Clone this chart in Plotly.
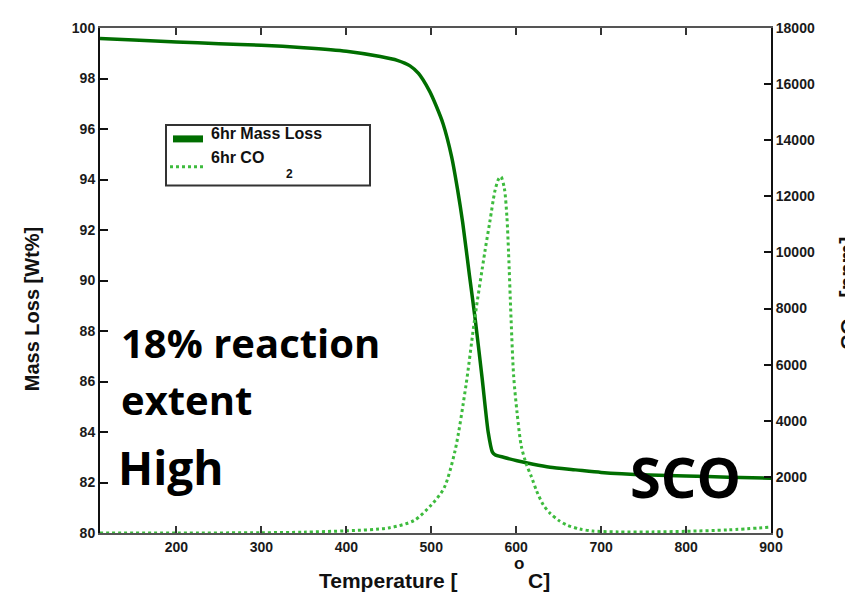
import plotly.graph_objects as go

# ---- data ----
temp_mass = [110, 150, 200, 250, 300, 350, 400, 440, 460, 475, 485, 498, 506, 514, 524, 531, 537,
             545, 552, 560, 567, 572, 575, 585, 601, 620, 640, 670, 700, 757, 800, 850, 900]
mass_loss = [99.58, 99.52, 99.45, 99.38, 99.32, 99.22, 99.08, 98.87, 98.72, 98.5, 98.2, 97.5, 96.9,
             96.2, 94.9, 93.6, 92.3, 90.2, 88.4, 86.1, 84.0, 83.2, 83.1, 83.0, 82.86, 82.72, 82.6,
             82.5, 82.4, 82.3, 82.26, 82.21, 82.17]

temp_co2 = [110, 200, 300, 350, 400, 450, 480, 500, 515, 528, 541, 551, 563, 569, 575, 579, 582,
            586, 589, 591, 594, 597, 601, 606, 612, 618, 624, 632, 640, 650, 660, 675, 690, 720,
            760, 800, 850, 900]
co2_ppm = [0, 0, 10, 30, 80, 180, 450, 1000, 1600, 2930, 5290, 7600, 10000, 11100, 12200, 12600,
           12700, 12300, 11300, 10000, 7600, 5600, 4300, 3100, 2450, 2000, 1500, 1000, 700, 450,
           280, 140, 70, 40, 40, 60, 110, 210]

x_ticks = [200, 300, 400, 500, 600, 700, 800, 900]
y_ticks = [80, 82, 84, 86, 88, 90, 92, 94, 96, 98, 100]
y2_ticks = [0, 2000, 4000, 6000, 8000, 10000, 12000, 14000, 16000, 18000]

series_names = ["6hr Mass Loss", "6hr CO"]

# ---- layout constants (page pixels; the page body adds an 8px offset) ----
OFF = 8
W, H = 853 - OFF, 593 - OFF
L, R, T, B = 100, 771, 23, 533          # plot area in page pixels
dark_green = "#006e00"
light_green = "#3dbb3d"


def px(xp):
    return (xp - L) / (R - L)


def py(yp):
    return (B - yp) / (B - T)


fig = go.Figure()
fig.add_trace(go.Scatter(x=temp_mass, y=mass_loss, mode="lines", name=series_names[0],
                         line=dict(color=dark_green, width=3.5, shape="spline", smoothing=0.6),
                         showlegend=False))
fig.add_trace(go.Scatter(x=temp_co2, y=co2_ppm, mode="lines", name=series_names[1],
                         line=dict(color=light_green, width=3, dash="dot", shape="spline",
                                   smoothing=0.8),
                         yaxis="y2", showlegend=False))

tickfont = dict(family="Arial, Liberation Sans", size=14, color="#1a1a1a", weight="bold")

fig.update_layout(
    width=W, height=H,
    margin=dict(l=L - OFF, r=W - (R - OFF), t=T - OFF, b=H - (B - OFF), pad=0),
    plot_bgcolor="white", paper_bgcolor="white",
    xaxis=dict(range=[110, 900], tickvals=x_ticks, ticks="inside", ticklen=7, tickwidth=1.5,
               tickcolor="#333", showline=True, linecolor="#555", linewidth=2, mirror="ticks",
               showgrid=False, zeroline=False, tickfont=tickfont),
    yaxis=dict(range=[80, 100], tickvals=y_ticks, ticks="inside", ticklen=8, tickwidth=1.5,
               tickcolor="#111", showline=True, linecolor="#111", linewidth=2, showgrid=False,
               zeroline=False, tickfont=tickfont),
    yaxis2=dict(range=[0, 18000], tickvals=y2_ticks, tickformat="d", overlaying="y",
                side="right", ticks="inside", ticklen=7, tickwidth=1.5, tickcolor="#111",
                showline=True, linecolor="#111", linewidth=2, showgrid=False, zeroline=False,
                tickfont=tickfont),
)

title_font = dict(family="Arial, Liberation Sans", size=20, color="#111", weight="bold")
big_font = dict(family="Open Sans", color="black", weight="bold")
leg_font = dict(family="Arial", size=16, color="#111", weight="bold")

annots = [
    # axis titles
    dict(x=px(32), y=py(307), text="Mass Loss [Wt%]", textangle=-90, font=title_font),
    dict(x=px(388), y=py(581), text="Temperature [", font=dict(title_font, size=21)),
    dict(x=px(519), y=py(564), text="o", font=dict(family="Arial", size=17, color="#111", weight="bold")),
    dict(x=px(539), y=py(581), text="C]", font=dict(title_font, size=21)),
    dict(x=px(848), y=py(332), text="CO", textangle=-90, font=dict(title_font, size=21)),
    dict(x=px(848), y=py(264), text="[ppm]", textangle=-90, font=dict(title_font, size=22)),
    # big labels
    dict(x=px(119), y=py(341), text="18% reaction", xanchor="left", font=dict(size=40, **big_font)),
    dict(x=px(119), y=py(398), text="extent", xanchor="left", font=dict(size=40, **big_font)),
    dict(x=px(116), y=py(466), text="High", xanchor="left", font=dict(size=46, **big_font)),
    dict(x=px(628), y=py(475), text="SCO", xanchor="left", font=dict(size=56, **big_font)),
    # legend texts
    dict(x=px(209), y=py(130), text=series_names[0], xanchor="left", font=leg_font),
    dict(x=px(209), y=py(154), text=series_names[1], xanchor="left", font=leg_font),
    dict(x=px(289), y=py(170), text="2", xanchor="center",
         font=dict(family="Arial", size=12, color="#111", weight="bold")),
]
for a in annots:
    a.setdefault("xanchor", "center")
    fig.add_annotation(xref="paper", yref="paper", showarrow=False, yanchor="middle", **a)

# legend frame and samples
fig.add_shape(type="rect", xref="paper", yref="paper", x0=px(166), x1=px(370), y0=py(182), y1=py(121),
              line=dict(color="#333", width=2), fillcolor="white", layer="below")
fig.add_shape(type="line", xref="paper", yref="paper", x0=px(173), x1=px(203), y0=py(135), y1=py(135),
              line=dict(color=dark_green, width=7))
fig.add_shape(type="line", xref="paper", yref="paper", x0=px(170), x1=px(206), y0=py(163), y1=py(163),
              line=dict(color=light_green, width=3, dash="dot"))

fig.write_html("out.html")
